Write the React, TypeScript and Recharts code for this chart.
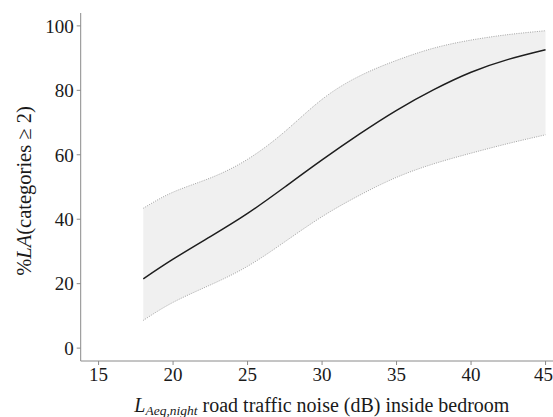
import React from "react";
import {
  ComposedChart,
  Area,
  Line,
  XAxis,
  YAxis,
  Label,
} from "recharts";

const noiseDb = [18, 20, 22.5, 25, 27.5, 30, 32.5, 35, 37.5, 40, 42.5, 45];
const meanPct = [21.5, 27.6, 34.6, 41.8, 50, 58.4, 66.4, 73.8, 80.2, 85.6, 89.6, 92.6];
const upperPct = [43.4, 48.4, 52.8, 58.6, 67.2, 77.2, 84.4, 89.3, 93.1, 95.6, 97.3, 98.5];
const lowerPct = [8.6, 14.2, 19.6, 25.4, 33, 40.8, 47.4, 53, 57.2, 60.5, 63.5, 66.2];

const xTicks = [15, 20, 25, 30, 35, 40, 45];
const yTicks = [0, 20, 40, 60, 80, 100];

const data = noiseDb.map((x, i) => ({
  x,
  mean: meanPct[i],
  upper: upperPct[i],
  lower: lowerPct[i],
  band: [lowerPct[i], upperPct[i]],
}));

const FONT = "Liberation Serif";
const AXIS = "#8a8a8a";
const TXT = "#1a1a1a";

const XLabel = (props: any) => {
  const vb = props.viewBox || { x: 0, y: 0, width: 0, height: 0 };
  const cx = vb.x + vb.width / 2 + 5;
  const y = vb.y + 51;
  return (
    <text
      x={cx}
      y={y}
      textAnchor="middle"
      style={{ fontFamily: FONT, fontSize: 20 }}
      fill={TXT}
    >
      <tspan fontStyle="italic">L</tspan>
      <tspan fontStyle="italic" style={{ fontSize: 13.5 }} dy={3}>
        Aeq,night
      </tspan>
      <tspan dy={-3}> road traffic noise (dB) inside bedroom</tspan>
    </text>
  );
};

const YLabel = () => {
  const x = 31;
  const y = 191;
  return (
    <text
      x={x}
      y={y}
      transform={`rotate(-90 ${x} ${y})`}
      textAnchor="middle"
      style={{ fontFamily: FONT, fontSize: 20.5 }}
      fill={TXT}
    >
      <tspan>%</tspan>
      <tspan fontStyle="italic">LA</tspan>
      <tspan>(categories ≥ 2)</tspan>
    </text>
  );
};

const tickStyle = { fontFamily: FONT, fontSize: 19, fill: TXT };

export default function App() {
  return (
    <div
      style={{
        position: "fixed",
        left: 0,
        top: 0,
        width: 553,
        height: 417,
        overflow: "hidden",
        background: "#fff",
      }}
    >
      <ComposedChart
        width={553}
        height={417}
        data={data}
        margin={{ top: 13, right: 0, bottom: 0, left: 0 }}
        style={{ fontFamily: FONT }}
      >
        <XAxis
          xAxisId="top"
          orientation="top"
          type="number"
          dataKey="x"
          domain={[13.8, 45.5]}
          height={0}
          tick={false}
          tickLine={false}
          axisLine={{ stroke: AXIS, strokeWidth: 1 }}
        />
        <XAxis
          type="number"
          dataKey="x"
          domain={[13.8, 45.5]}
          ticks={xTicks}
          height={56}
          tickSize={4}
          tickMargin={3}
          axisLine={{ stroke: AXIS, strokeWidth: 1 }}
          tickLine={{ stroke: AXIS }}
          tick={tickStyle}
          allowDataOverflow
        >
          <Label content={<XLabel />} />
        </XAxis>
        <YAxis
          type="number"
          domain={[-4, 104]}
          ticks={yTicks}
          width={80.7}
          tickSize={4}
          tickMargin={3}
          axisLine={{ stroke: AXIS, strokeWidth: 1 }}
          tickLine={{ stroke: AXIS }}
          tick={tickStyle}
          allowDataOverflow
        >
          <Label content={<YLabel />} />
        </YAxis>
        <Area
          dataKey="band"
          type="natural"
          fill="#f0f0f0"
          fillOpacity={1}
          stroke="none"
          isAnimationActive={false}
        />
        <Line
          dataKey="upper"
          type="natural"
          stroke="#9a9a9a"
          strokeWidth={0.9}
          strokeDasharray="1 1.3"
          dot={false}
          isAnimationActive={false}
        />
        <Line
          dataKey="lower"
          type="natural"
          stroke="#9a9a9a"
          strokeWidth={0.9}
          strokeDasharray="1 1.3"
          dot={false}
          isAnimationActive={false}
        />
        <Line
          dataKey="mean"
          type="natural"
          stroke="#1e1e1e"
          strokeWidth={1.5}
          dot={false}
          isAnimationActive={false}
        />
      </ComposedChart>
    </div>
  );
}
